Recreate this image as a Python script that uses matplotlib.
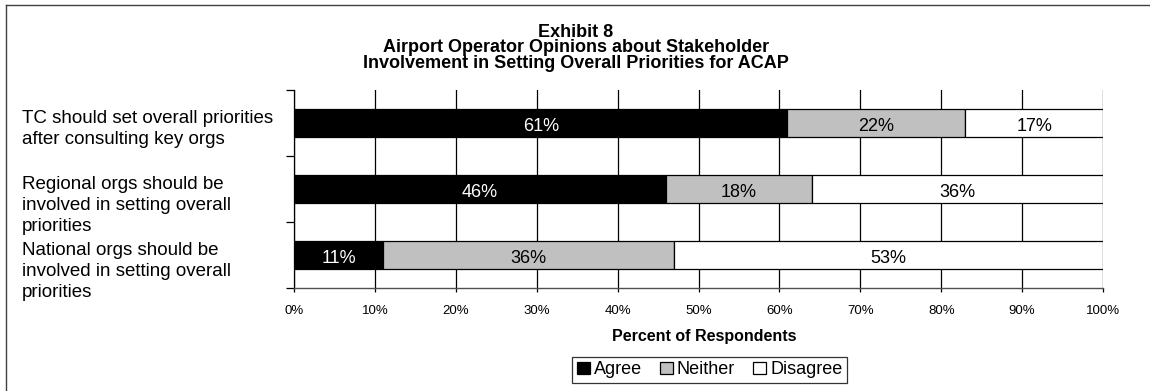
import matplotlib
matplotlib.use("Agg")
import matplotlib.pyplot as plt
import matplotlib.transforms as mtransforms
from matplotlib.lines import Line2D
from matplotlib.patches import Patch
import numpy as np

categories = [
    "TC should set overall priorities\nafter consulting key orgs",
    "Regional orgs should be\ninvolved in setting overall\npriorities",
    "National orgs should be\ninvolved in setting overall\npriorities",
]
series_names = ["Agree", "Neither", "Disagree"]
agree = [61, 46, 11]
neither = [22, 18, 36]
disagree = [17, 36, 53]
xticks = [0, 10, 20, 30, 40, 50, 60, 70, 80, 90, 100]
xtick_labels = ["0%", "10%", "20%", "30%", "40%", "50%", "60%", "70%", "80%", "90%", "100%"]
title = ("Exhibit 8\n"
         "Airport Operator Opinions about Stakeholder\n"
         "Involvement in Setting Overall Priorities for ACAP")
xlabel = "Percent of Respondents"
colors = ["#000000", "#c0c0c0", "#ffffff"]
text_colors = ["white", "black", "black"]

plt.rcParams['font.family'] = ['Liberation Sans', 'DejaVu Sans']

W, H = 1150, 391
fig = plt.figure(figsize=(W / 100, H / 100), dpi=100)
ax = fig.add_axes([294 / W, 1 - 288 / H, (1103 - 294) / W, (288 - 90) / H])

y = np.arange(len(categories))
left = np.zeros(len(categories))
for vals, name, col, tcol in zip([agree, neither, disagree], series_names, colors, text_colors):
    bars = ax.barh(y, vals, left=left, height=0.41, color=col, edgecolor="black",
                   linewidth=0.9, label=name, zorder=3)
    for b, v in zip(bars, vals):
        ax.text(b.get_x() + b.get_width() / 2, b.get_y() + b.get_height() / 2 + 0.05,
                f"{v}%", ha="center", va="center", color=tcol, fontsize=13, zorder=4)
    left = left + np.array(vals)

ax.set_xlim(0, 100)
ax.set_ylim(len(categories) - 0.5, -0.5)
ax.set_xticks(xticks)
ax.set_xticklabels(xtick_labels, fontsize=9.5)
ax.set_yticks(np.arange(len(categories) + 1) - 0.5)
ax.set_yticklabels([])
ax.tick_params(axis="x", length=3, pad=9, width=0.9)
ax.tick_params(axis="y", length=6, width=0.9)
ax.grid(axis="x", color="black", linewidth=0.9, zorder=0)
for s in ["top", "right"]:
    ax.spines[s].set_visible(False)
ax.spines["left"].set_linewidth(0.9)
ax.spines["bottom"].set_linewidth(1.0)
ax.spines["bottom"].set_color("#505050")

trans = mtransforms.blended_transform_factory(fig.transFigure, ax.transData)
for i, c in enumerate(categories):
    ax.text(22 / W, i - 0.2, c, transform=trans,
            ha="left", va="top", fontsize=13.5, linespacing=1.32)

fig.text(576 / W, 1 - 48 / H, title, ha="center", va="center", multialignment="center",
         fontsize=13, fontweight="bold", linespacing=0.86)
fig.text(704 / W, 1 - 337 / H, xlabel, ha="center", va="center",
         fontsize=11.5, fontweight="bold")

handles = [Patch(facecolor=c, edgecolor="black", linewidth=0.9) for c in colors]
leg = fig.legend(handles, series_names, loc="center", bbox_to_anchor=(709.5 / W, 1 - 370 / H),
                 ncol=3, frameon=True, fancybox=False, edgecolor="black", fontsize=13,
                 handlelength=0.72, handleheight=0.68, handletextpad=0.22, columnspacing=1.0,
                 borderpad=0.25, borderaxespad=0)
leg.get_frame().set_linewidth(0.9)

fig.add_artist(Line2D([6 / W, 6 / W], [0, 1 - 5 / H], transform=fig.transFigure, color="#404040", linewidth=1))
fig.add_artist(Line2D([6 / W, 1], [1 - 5 / H, 1 - 5 / H], transform=fig.transFigure, color="#404040", linewidth=1))

fig.savefig("out.png", dpi=100)
